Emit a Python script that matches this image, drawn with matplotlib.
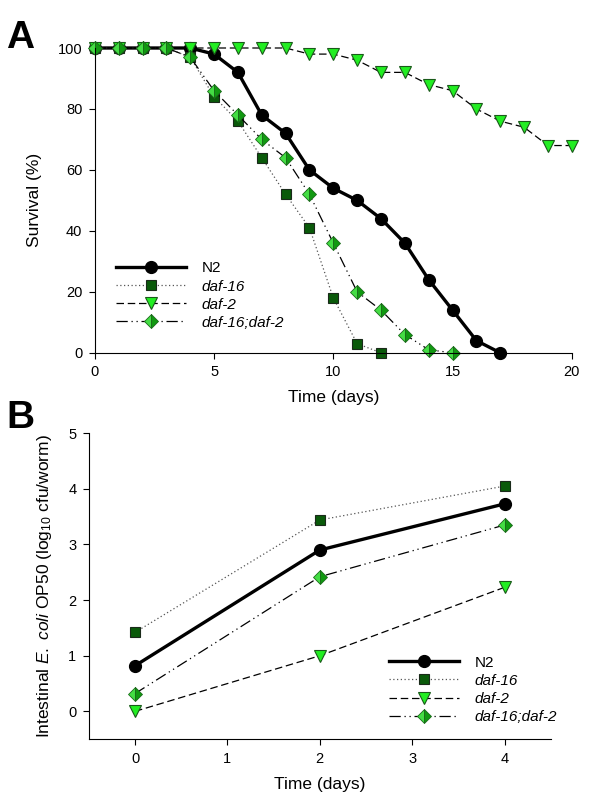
import matplotlib
matplotlib.use("Agg")
import matplotlib.pyplot as plt

plt.rcParams["font.family"] = ["Liberation Sans", "DejaVu Sans"]
plt.rcParams["mathtext.fontset"] = "custom"
plt.rcParams["mathtext.rm"] = "Liberation Sans"
plt.rcParams["mathtext.it"] = "Liberation Sans:italic"

# Panel A: survival (%) per day
days_n2 = list(range(0, 18))
surv_n2 = [100, 100, 100, 100, 100, 98, 92, 78, 72, 60, 54, 50, 44, 36, 24, 14, 4, 0]
days_d16 = list(range(0, 13))
surv_d16 = [100, 100, 100, 100, 97, 84, 76, 64, 52, 41, 18, 3, 0]
days_d2 = list(range(0, 21))
surv_d2 = [100, 100, 100, 100, 100, 100, 100, 100, 100, 98, 98, 96, 92, 92, 88, 86, 80, 76, 74, 68, 68]
days_dd = list(range(0, 16))
surv_dd = [100, 100, 100, 100, 97, 86, 78, 70, 64, 52, 36, 20, 14, 6, 1, 0]

# Panel B: intestinal E. coli (log10 cfu/worm)
time_b = [0, 2, 4]
cfu_n2 = [0.82, 2.9, 3.73]
cfu_d16 = [1.42, 3.44, 4.05]
cfu_d2 = [0.0, 1.0, 2.23]
cfu_dd = [0.32, 2.42, 3.35]

labels = ["N2", "daf-16", "daf-2", "daf-16;daf-2"]

styles = [
    dict(color="black", lw=2.4, ls="-", marker="o", ms=8.5, mfc="black", mec="black"),
    dict(color="#555555", lw=0.9, ls=(0, (1, 2)), marker="s", ms=7, mfc="#0a5a0a", mec="#1a2a1a", mew=0.8),
    dict(color="black", lw=0.9, ls=(0, (6, 3)), marker="v", ms=8.5, mfc="#22ee22", mec="#1a5a1a", mew=0.8),
    dict(color="black", lw=0.9, ls=(0, (9, 3, 1, 3, 1, 3)), marker="D", ms=7, mfc="#44dd44",
         mfcalt="#119911", fillstyle="left", mec="#1a6a1a", mew=0.6),
]

fig = plt.figure(figsize=(6, 8), dpi=100)
axA = fig.add_axes([0.158, 0.559, 0.795, 0.381])
axB = fig.add_axes([0.148, 0.076, 0.77, 0.3825])


def draw(ax, xs, ys):
    handles = []
    for x, y, st in zip(xs, ys, styles):
        st = dict(st)
        alt = st.pop("mfcalt", None)
        h, = ax.plot(x, y, clip_on=False, **st)
        if alt:
            h.set_markerfacecoloralt(alt)
        handles.append(h)
    return handles


hA = draw(axA, [days_n2, days_d16, days_d2, days_dd], [surv_n2, surv_d16, surv_d2, surv_dd])
hB = draw(axB, [time_b] * 4, [cfu_n2, cfu_d16, cfu_d2, cfu_dd])

for ax in (axA, axB):
    ax.spines["top"].set_visible(False)
    ax.spines["right"].set_visible(False)
    ax.tick_params(direction="out", length=4, width=0.8, labelsize=10.5, pad=5)

axA.set_xlim(0, 20)
axA.set_ylim(0, 100)
axA.set_xticks(range(0, 21, 5))
axA.set_yticks(range(0, 101, 20))
axA.set_xlabel("Time (days)", fontsize=12.5, labelpad=8)
axA.set_ylabel("Survival (%)", fontsize=12.5, labelpad=11)

axB.set_xlim(-0.5, 4.5)
axB.set_ylim(-0.5, 5)
axB.set_xticks(range(0, 5))
axB.set_yticks(range(0, 6))
axB.set_xlabel("Time (days)", fontsize=12.5, labelpad=8)
axB.set_ylabel(r"Intestinal $\mathit{E.\ coli}$ OP50 (log$_{10}$ cfu/worm)", fontsize=12.5, labelpad=10)

for ax, hs, anchor in ((axA, hA, (0.031, 0.32)), (axB, hB, (0.637, 0.293))):
    leg = ax.legend(hs, labels, loc="upper left", bbox_to_anchor=anchor, frameon=False,
                    fontsize=11, handlelength=4.6, handletextpad=1.0, labelspacing=0.27,
                    borderaxespad=0.0)
    for t in leg.get_texts()[1:]:
        t.set_style("italic")

fig.text(0.01, 0.975, "A", fontsize=28, fontweight="bold", va="top")
fig.text(0.01, 0.5, "B", fontsize=28, fontweight="bold", va="top")

fig.savefig("out.png", dpi=100)
